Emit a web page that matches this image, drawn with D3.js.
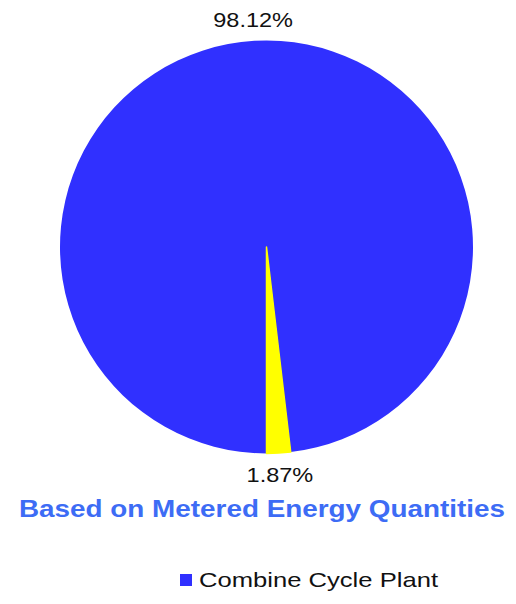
<!DOCTYPE html>
<html>
<head>
<meta charset="utf-8">
<script src="https://cdn.jsdelivr.net/npm/d3@7"></script>
<style>
  html, body { margin: 0; padding: 0; background: #fff; }
  svg { display: block; font-family: "Liberation Sans", Arial, sans-serif; }
</style>
</head>
<body>
<svg id="chart" width="516" height="604"></svg>
<script>
// Share of metered energy by source
const categories = ["Combine Cycle Plant", "Other"];
const shares = [98.12, 1.87];
const sliceLabels = ["98.12%", "1.87%"];
const legendItems = ["Combine Cycle Plant"];
const titleText = "Based on Metered Energy Quantities";

const colors = d3.scaleOrdinal()
  .domain(categories)
  .range(["#3030ff", "#ffff00"]);

const svg = d3.select("#chart");
const cx = 266.5, cy = 247, radius = 206.5;

const pie = d3.pie()
  .sort(null)
  .value(d => d.value)
  .startAngle(Math.PI)
  .endAngle(3 * Math.PI);

const data = categories.map((c, i) => ({ name: c, value: shares[i], label: sliceLabels[i] }));
const arcs = pie(data);

const arc = d3.arc().innerRadius(0).outerRadius(radius);
const labelArc = d3.arc().innerRadius(228).outerRadius(228);

const g = svg.append("g").attr("transform", `translate(${cx},${cy})`);

g.selectAll("path.slice")
  .data(arcs)
  .join("path")
  .attr("class", "slice")
  .attr("d", arc)
  .attr("fill", d => colors(d.data.name))
  .attr("stroke", d => d.index === 1 ? colors(d.data.name) : "none")
  .attr("stroke-width", 1.5)
  .attr("stroke-linejoin", "round");

// Percentage labels outside the pie, along each slice's bisector
g.selectAll("text.pct")
  .data(arcs)
  .join("text")
  .attr("class", "pct")
  .attr("transform", d => `translate(${labelArc.centroid(d)})`)
  .attr("text-anchor", "middle")
  .attr("dy", "0.35em")
  .attr("font-size", 21)
  .attr("fill", "#111")
  .text(d => d.data.label)
  .each(function() {
    const w = this.getComputedTextLength();
    d3.select(this).attr("textLength", w * 1.12).attr("lengthAdjust", "spacingAndGlyphs");
  });

// Title
const title = svg.append("text")
  .attr("x", 262)
  .attr("y", 517)
  .attr("text-anchor", "middle")
  .attr("font-size", 24)
  .attr("font-weight", "bold")
  .attr("fill", "#3d6cf5")
  .text(titleText);
title.attr("textLength", 486).attr("lengthAdjust", "spacingAndGlyphs");

// Legend
const legend = svg.append("g").attr("transform", "translate(180,574)");
legendItems.forEach((name, i) => {
  legend.append("rect")
    .attr("x", 0).attr("y", 0)
    .attr("width", 12).attr("height", 12)
    .attr("fill", colors(name));
  legend.append("text")
    .attr("x", 19)
    .attr("y", 13)
    .attr("font-size", 21)
    .attr("fill", "#111")
    .attr("textLength", 239)
    .attr("lengthAdjust", "spacingAndGlyphs")
    .text(name);
});
</script>
</body>
</html>
